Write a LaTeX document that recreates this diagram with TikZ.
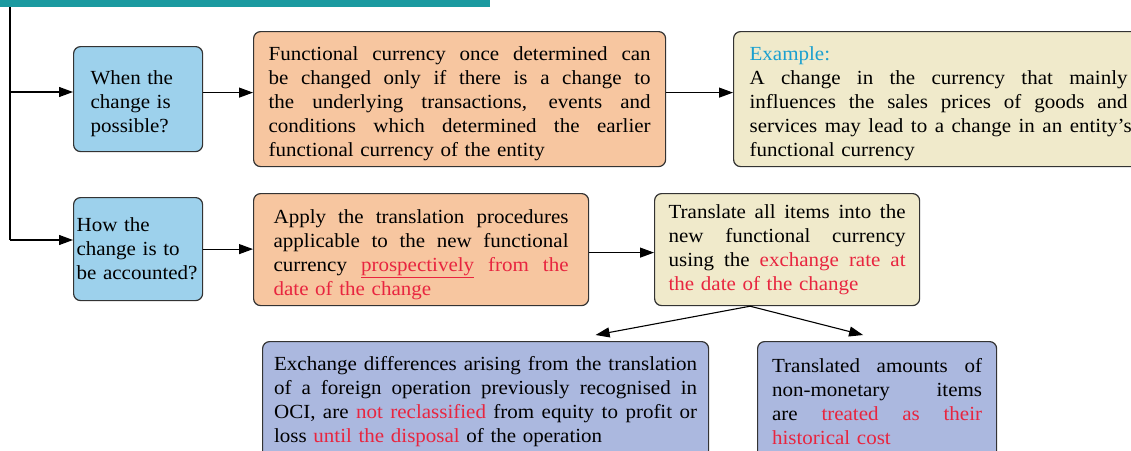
\documentclass[tikz,border=0pt]{standalone}
\usepackage{fontspec}
\setmainfont[FakeStretch=1.05]{Liberation Serif}
\usetikzlibrary{arrows.meta,calc}
\definecolor{teal1}{HTML}{1B9AA0}
\definecolor{qblue}{HTML}{9DD1EC}
\definecolor{orng}{HTML}{F7C6A0}
\definecolor{cream}{HTML}{F0EACB}
\definecolor{lav}{HTML}{ABB8DF}
\definecolor{redt}{HTML}{E8253F}
\definecolor{cyant}{HTML}{1AA0D0}
\definecolor{edge}{HTML}{333333}
\newcommand\jl[2]{\leavevmode\hbox to #1{\spaceskip=.22em plus 1fil\relax\xspaceskip=.25em plus 1fil\relax #2}}
\newcommand\rt[1]{\textcolor{redt}{#1}}
\newcommand\tallstrut{\rule{0pt}{24pt}}
\begin{document}
\begin{tikzpicture}[x=1pt,y=-1pt,
  box/.style={draw=edge,line width=1.2pt,rounded corners=7pt,anchor=north west,
    font=\fontsize{20}{24}\selectfont,align=left,inner ysep=0pt},
  arr/.style={line width=1.1pt,-{Triangle[length=14pt,width=10pt]}},
  ln/.style={line width=1.1pt}]
\useasboundingbox (0,0) rectangle (1131,450);
\clip (0,0) rectangle (1131,450);
\fill[teal1] (0,0) rectangle (490,7);
% questions
\node[box,fill=qblue,text width=95pt,inner xsep=17pt,minimum height=105pt] (q1) at (73,46)
  {\tallstrut When the\\change is\\possible?};
\node[box,fill=qblue,text width=123pt,inner xsep=3pt,minimum height=103pt] (q2) at (73,197)
  {How the\\change is to\\be accounted?};
% first row
\node[box,fill=orng,text width=382pt,inner xsep=15pt,minimum height=135pt] (o1) at (253,31)
  {\jl{382pt}{\tallstrut Functional currency once determined can}\\
   \jl{382pt}{be changed only if there is a change to}\\
   \jl{382pt}{the underlying transactions, events and}\\
   \jl{382pt}{conditions which determined the earlier}\\
   functional currency of the entity};
\node[box,fill=cream,text width=382pt,inner xsep=16pt,minimum height=135pt] (ex) at (733,31)
  {\tallstrut\textcolor{cyant}{Example:}\\
   \jl{378pt}{A change in the currency that mainly}\\
   \jl{378pt}{influences the sales prices of goods and}\\
   \jl{382pt}{services may lead to a change in an entity’s}\\
   functional currency};
% second row
\node[box,fill=orng,text width=295pt,inner xsep=20pt,minimum height=112pt] (o2) at (253,193)
  {\jl{295pt}{\tallstrut Apply the translation procedures}\\
   \jl{295pt}{applicable to the new functional}\\
   \jl{295pt}{currency \rt{\underline{prospectively}} \rt{from} \rt{the}}\\
   \rt{date of the change}};
\node[box,fill=cream,text width=237pt,inner xsep=14pt,minimum height=112pt] (tr) at (654,193)
  {\jl{237pt}{Translate all items into the}\\
   \jl{237pt}{new functional currency}\\
   \jl{237pt}{using the \rt{exchange} \rt{rate} \rt{at}}\\
   \rt{the date of the change}};
% third row
\node[box,fill=lav,text width=423pt,inner xsep=11.5pt,minimum height=120pt] (d1) at (262,341)
  {\jl{423pt}{Exchange differences arising from the translation}\\
   \jl{423pt}{of a foreign operation previously recognised in}\\
   \jl{423pt}{OCI, are \rt{not} \rt{reclassified} from equity to profit or}\\
   loss \rt{until the disposal} of the operation};
\node[box,fill=lav,text width=210pt,inner xsep=14.5pt,minimum height=120pt] (d2) at (757,341)
  {\jl{210pt}{Translated amounts of}\\
   \jl{210pt}{non-monetary items}\\
   \jl{210pt}{are \rt{treated} \rt{as} \rt{their}}\\
   \rt{historical cost}};
% connectors
\coordinate (top) at (10,7);
\coordinate (j1) at (10,92);
\coordinate (j2) at (10,240);
\coordinate (s1) at ($(q1.east)+(0,-6.5)$);
\coordinate (s2) at ($(o1.east)+(0,-6.5)$);
\coordinate (s3) at ($(o2.east)+(0,3)$);
\draw[ln] (top) -- (j2);
\draw[arr] (j1) -- (j1 -| q1.west);
\draw[arr] (j2) -- (j2 -| q2.west);
\draw[arr] (s1) -- (s1 -| o1.west);
\draw[arr] (s2) -- (s2 -| ex.west);
\draw[arr] (q2.east) -- (q2.east -| o2.west);
\draw[arr] (s3) -- (s3 -| tr.west);
\coordinate (apex) at ($(tr.south)+(-37,0)$);
\coordinate (t1) at ($(d1.north)+(110,-6)$);
\coordinate (t2) at ($(d2.north)+(-14,-6)$);
\draw[arr] (apex) -- (t1);
\draw[arr] (apex) -- (t2);
\end{tikzpicture}
\end{document}
